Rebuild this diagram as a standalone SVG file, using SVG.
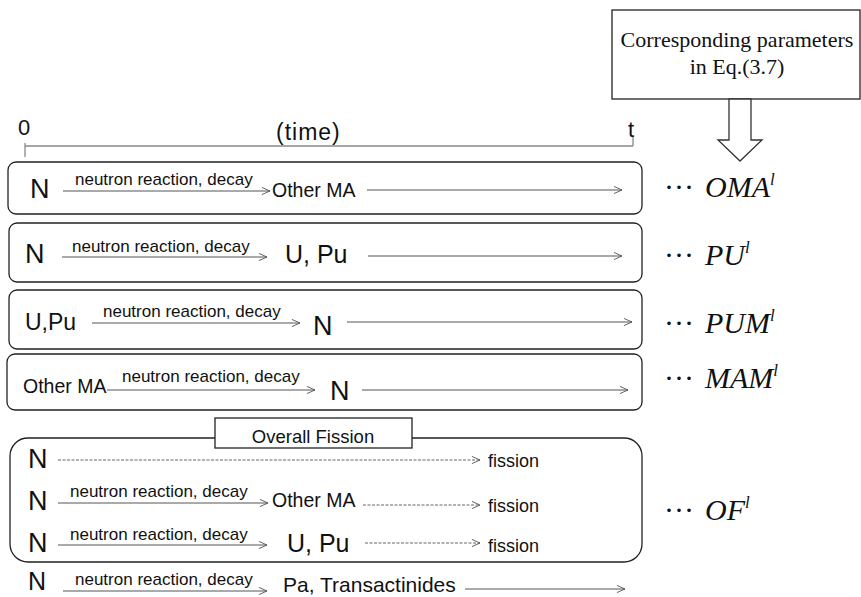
<svg xmlns="http://www.w3.org/2000/svg" width="861" height="597" viewBox="0 0 861 597">
<style>
.box{fill:none;stroke:#222;stroke-width:1.3}
.wbox{fill:#fff;stroke:#222;stroke-width:1.3}
.ln{stroke:#555;stroke-width:1;fill:none}
.dash{stroke:#666;stroke-width:1;stroke-dasharray:3 1.5;fill:none}
.ax{stroke:#888;stroke-width:1.3;fill:none}
.s{font-family:"Liberation Sans",Arial,sans-serif;fill:#111}
.lab{font-family:"Liberation Sans",Arial,sans-serif;font-size:17px;fill:#111}
.big{font-family:"Liberation Sans",Arial,sans-serif;font-size:27px;fill:#111}
.mid{font-family:"Liberation Sans",Arial,sans-serif;font-size:19.5px;fill:#111}
.upu{font-family:"Liberation Sans",Arial,sans-serif;font-size:25px;fill:#111}
.fis{font-family:"Liberation Sans",Arial,sans-serif;font-size:18px;fill:#111}
.tr{font-family:"Liberation Serif","Times New Roman",serif;fill:#111}
.it{font-family:"Liberation Serif","Times New Roman",serif;font-style:italic;font-size:30px;fill:#111}
.dots{font-family:"Liberation Serif","Times New Roman",serif;font-size:30px;fill:#111}
</style>
<defs>
<marker id="ah" viewBox="0 0 10 10" refX="10" refY="5" markerWidth="9" markerHeight="9" markerUnits="userSpaceOnUse" orient="auto">
<path d="M1,1 L10,5 L1,9" fill="none" stroke="#555" stroke-width="1"/>
</marker>
</defs>

<g id="params">
<rect class="box" x="612" y="10" width="248" height="89"/>
<text class="tr" x="737" y="47" font-size="22" text-anchor="middle">Corresponding parameters</text>
<text class="tr" x="737" y="74" font-size="22" text-anchor="middle">in Eq.(3.7)</text>
<polygon points="729,99 729,140 718,140 740,161 762,140 751,140 751,99" fill="#fff" stroke="#333" stroke-width="1.3"/>
</g>

<g id="time-axis">
<line class="ax" x1="25" y1="146" x2="633" y2="146"/>
<line class="ax" x1="25" y1="143" x2="25" y2="157"/>
<line class="ax" x1="633" y1="137" x2="633" y2="146"/>
<text class="s" x="18" y="135" font-size="22">0</text>
<text class="s" x="276" y="140" font-size="23" letter-spacing="1">(time)</text>
<text class="s" x="628" y="137" font-size="22">t</text>
</g>

<g id="row-oma">
<rect class="box" x="8" y="162" width="634" height="52" rx="8"/>
<text class="big" x="30" y="198">N</text>
<text class="lab" x="75" y="185">neutron reaction, decay</text>
<text class="mid" x="272" y="197">Other MA</text>
<text class="dots" x="664" y="197">···</text>
<text class="it" x="705" y="197">OMA<tspan font-size="17" dy="-12">l</tspan></text>
</g>

<g id="row-pu">
<rect class="box" x="9" y="223" width="633" height="59" rx="8"/>
<text class="big" x="25" y="263">N</text>
<text class="lab" x="72" y="252">neutron reaction, decay</text>
<text class="upu" x="285" y="263">U, Pu</text>
<text class="dots" x="664" y="265">···</text>
<text class="it" x="705" y="265">PU<tspan font-size="17" dy="-12">l</tspan></text>
</g>

<g id="row-pum">
<rect class="box" x="9" y="290" width="633" height="59" rx="8"/>
<text class="s" x="25" y="330" font-size="23">U,Pu</text>
<text class="lab" x="103" y="317">neutron reaction, decay</text>
<text class="big" x="313" y="335">N</text>
<text class="dots" x="664" y="333">···</text>
<text class="it" x="705" y="333">PUM<tspan font-size="17" dy="-12">l</tspan></text>
</g>

<g id="row-mam">
<rect class="box" x="7" y="354" width="635" height="56" rx="8"/>
<text class="mid" x="23" y="393">Other MA</text>
<text class="lab" x="122" y="382">neutron reaction, decay</text>
<text class="big" x="330" y="400">N</text>
<text class="dots" x="664" y="388">···</text>
<text class="it" x="705" y="388">MAM<tspan font-size="17" dy="-12">l</tspan></text>
</g>

<g id="overall-fission">
<rect class="box" x="10" y="438" width="632" height="124" rx="18"/>
<rect class="wbox" x="215" y="418" width="197" height="30"/>
<text class="s" x="313" y="443" font-size="18.5" text-anchor="middle">Overall Fission</text>
<text class="big" x="28" y="468">N</text>
<text class="fis" x="488" y="467">fission</text>
<text class="big" x="28" y="510">N</text>
<text class="lab" x="70" y="497">neutron reaction, decay</text>
<text class="mid" x="272" y="507">Other MA</text>
<text class="fis" x="488" y="512">fission</text>
<text class="big" x="28" y="552">N</text>
<text class="lab" x="70" y="540">neutron reaction, decay</text>
<text class="upu" x="287" y="552">U, Pu</text>
<text class="fis" x="488" y="552">fission</text>
<text class="dots" x="664" y="520">···</text>
<text class="it" x="705" y="520">OF<tspan font-size="17" dy="-12">l</tspan></text>
</g>

<g id="row-pa">
<text class="s" x="28" y="590" font-size="25">N</text>
<text class="lab" x="75" y="585">neutron reaction, decay</text>
<text class="s" x="283" y="592" font-size="21">Pa, Transactinides</text>
</g>

<g id="connectors">
<line class="ln" x1="63" y1="191" x2="270" y2="191" marker-end="url(#ah)"/>
<line class="ln" x1="367" y1="190" x2="622" y2="190" marker-end="url(#ah)"/>
<line class="ln" x1="62" y1="257" x2="267" y2="257" marker-end="url(#ah)"/>
<line class="ln" x1="368" y1="256" x2="622" y2="256" marker-end="url(#ah)"/>
<line class="ln" x1="92" y1="323" x2="300" y2="323" marker-end="url(#ah)"/>
<line class="ln" x1="347" y1="322" x2="632" y2="322" marker-end="url(#ah)"/>
<line class="ln" x1="107" y1="390" x2="315" y2="390" marker-end="url(#ah)"/>
<line class="ln" x1="362" y1="390" x2="628" y2="390" marker-end="url(#ah)"/>
<line class="dash" x1="58" y1="460" x2="480" y2="460" marker-end="url(#ah)"/>
<line class="ln" x1="58" y1="503" x2="268" y2="503" marker-end="url(#ah)"/>
<line class="dash" x1="363" y1="505" x2="480" y2="505" marker-end="url(#ah)"/>
<line class="ln" x1="58" y1="545" x2="267" y2="545" marker-end="url(#ah)"/>
<line class="dash" x1="365" y1="543" x2="480" y2="543" marker-end="url(#ah)"/>
<line class="ln" x1="63" y1="591" x2="267" y2="591" marker-end="url(#ah)"/>
<line class="ln" x1="465" y1="589" x2="625" y2="589" marker-end="url(#ah)"/>
</g>
</svg>
